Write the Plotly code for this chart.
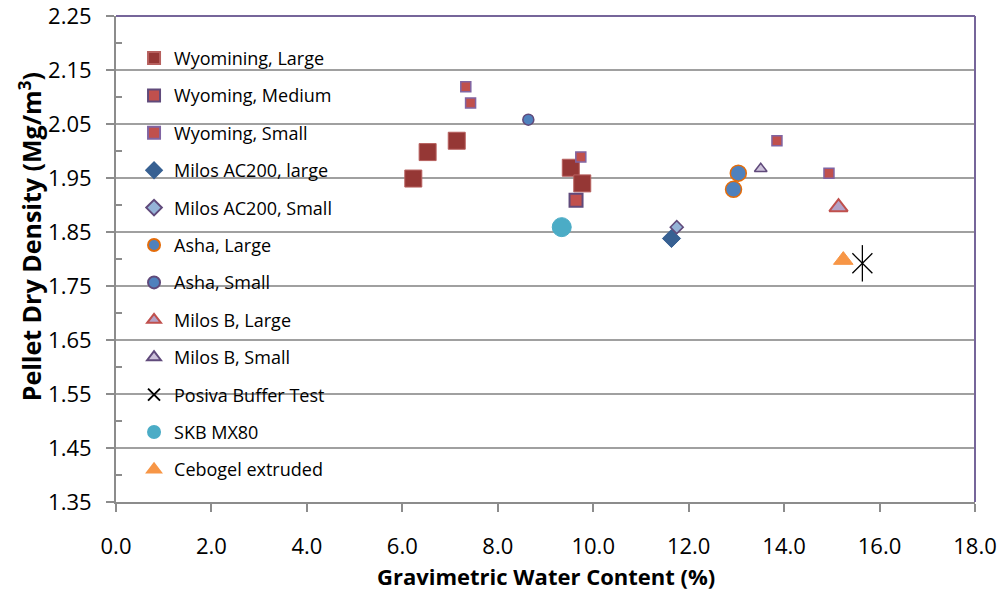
import plotly.graph_objects as go

# ---- data ----
wy_large_x = [6.23, 6.53, 7.14, 9.53, 9.77]
wy_large_y = [1.949, 1.998, 2.019, 1.969, 1.940]
wy_med_x = [9.64]
wy_med_y = [1.909]
wy_small_x = [7.33, 7.43, 9.74, 13.85, 14.94]
wy_small_y = [2.119, 2.089, 1.989, 2.019, 1.959]
milos_ac_large_x = [11.64]
milos_ac_large_y = [1.838]
milos_ac_small_x = [11.75]
milos_ac_small_y = [1.859]
asha_large_x = [13.04, 12.94]
asha_large_y = [1.959, 1.929]
asha_small_x = [8.64]
asha_small_y = [2.058]
milos_b_large_x = [15.14]
milos_b_large_y = [1.896]
milos_b_small_x = [13.51]
milos_b_small_y = [1.967]
posiva_x = [15.64]
posiva_y = [1.792]
skb_x = [9.34]
skb_y = [1.859]
cebogel_x = [15.24]
cebogel_y = [1.798]

x_ticks = [0, 2, 4, 6, 8, 10, 12, 14, 16, 18]
x_tick_labels = ["0.0", "2.0", "4.0", "6.0", "8.0", "10.0", "12.0", "14.0", "16.0", "18.0"]
y_ticks = [1.35, 1.45, 1.55, 1.65, 1.75, 1.85, 1.95, 2.05, 2.15, 2.25]
y_tick_labels = ["1.35", "1.45", "1.55", "1.65", "1.75", "1.85", "1.95", "2.05", "2.15", "2.25"]
x_title = "<b>Gravimetric Water Content (%)</b>"
y_title = "<b>Pellet Dry Density (Mg/m<sup>3</sup>)</b>"

FONT = "Open Sans"

fig = go.Figure()

def add(name, xs, ys, symbol, size, color, lcolor, lwidth, grp, showlegend=True):
    fig.add_trace(go.Scatter(
        x=xs, y=ys, mode="markers", name=name, legendgroup=grp, showlegend=showlegend,
        marker=dict(symbol=symbol, size=size, color=color,
                    line=dict(color=lcolor, width=lwidth)),
    ))

add("Wyomining, Large", wy_large_x, wy_large_y, "square", 17, "#953735", "#B7605E", 1, "g1")
add("Wyoming, Medium", wy_med_x, wy_med_y, "square", 13, "#C0504D", "#604A7B", 2, "g2")
add("Wyoming, Small", wy_small_x, wy_small_y, "square", 10, "#C0504D", "#8064A2", 1.5, "g3")
add("Milos AC200, large", milos_ac_large_x, milos_ac_large_y, "diamond", 14, "#376092", "#376092", 1, "g4")
add("Milos AC200, Small", milos_ac_small_x, milos_ac_small_y, "diamond", 10, "#95B3D7", "#604A7B", 1.5, "g5")
add("Asha, Large", asha_large_x, asha_large_y, "circle", 16, "#4F81BD", "#E46C0A", 1.5, "g6")
add("Asha, Small", asha_small_x, asha_small_y, "circle", 11, "#4F81BD", "#604A7B", 1.5, "g7")
add("Milos B, Large", milos_b_large_x, milos_b_large_y, "triangle-up", 16, "#B3A2C7", "#C0504D", 2, "g8")
add("Milos B, Small", milos_b_small_x, milos_b_small_y, "triangle-up", 11, "#CCC1DA", "#604A7B", 1.5, "g9")
add("Posiva Buffer Test", posiva_x, posiva_y, "x-thin-open", 20, "#000000", "#000000", 1.3, "g10")
add("Posiva Buffer Test", posiva_x, posiva_y, "line-ns-open", 26, "#000000", "#000000", 1.3, "g10", showlegend=False)
add("SKB MX80", skb_x, skb_y, "circle", 19, "#4BACC6", "#4BACC6", 1, "g11")
add("Cebogel extruded", cebogel_x, cebogel_y, "triangle-up", 17, "#F79646", "#F79646", 1, "g12")

fig.update_layout(
    width=1007, height=597,
    margin=dict(l=116, r=32, t=16, b=95),
    paper_bgcolor="white", plot_bgcolor="white",
    font=dict(family=FONT, size=22, color="#000000"),
    showlegend=True,
    legend=dict(
        x=0.021, y=0.951, xanchor="left", yanchor="top",
        font=dict(family=FONT, size=18),
        tracegroupgap=11, itemsizing="constant",
        bgcolor="rgba(0,0,0,0)",
    ),
    xaxis=dict(
        range=[0, 18], tickvals=x_ticks, ticktext=x_tick_labels,
        showgrid=False, zeroline=False, automargin=False,
        showline=True, linecolor="#8C8C8C", linewidth=2,
        ticks="outside", ticklen=8, tickcolor="#8C8C8C", tickwidth=1.5,
        ticklabelstandoff=16, ticklabeloverflow="allow",
        tickfont=dict(family=FONT, size=22),
    ),
    yaxis=dict(
        range=[1.35, 2.25], tickvals=y_ticks, ticktext=y_tick_labels,
        showgrid=True, gridcolor="#A0A0A0", gridwidth=2, zeroline=False, automargin=False,
        showline=True, linecolor="#8C8C8C", linewidth=2,
        ticks="outside", ticklen=8, tickcolor="#8C8C8C", tickwidth=1.5,
        ticklabelstandoff=10, ticklabeloverflow="allow",
        minor=dict(tickvals=[1.40, 1.50, 1.60, 1.70, 1.80, 1.90, 2.00, 2.10, 2.20],
                   ticks="inside", ticklen=6, tickcolor="#8C8C8C", showgrid=False),
        tickfont=dict(family=FONT, size=22),
    ),
    annotations=[
        dict(text=x_title, xref="paper", yref="paper", x=0.5, y=-0.152,
             xanchor="center", yanchor="middle", showarrow=False,
             font=dict(family=FONT, size=22)),
        dict(text=y_title, xref="paper", yref="paper", x=-0.1, y=0.545,
             xanchor="center", yanchor="middle", showarrow=False, textangle=-90,
             font=dict(family=FONT, size=25)),
    ],
    shapes=[
        dict(type="line", xref="x domain", yref="y domain", x0=0, x1=1, y0=1, y1=1,
             line=dict(color="#76659A", width=2), layer="above"),
        dict(type="line", xref="x domain", yref="y domain", x0=1, x1=1, y0=0, y1=1,
             line=dict(color="#76659A", width=2), layer="above"),
    ],
)

fig.write_html("out.html", config={"displayModeBar": False},
               post_script="document.body.style.margin='0';")
